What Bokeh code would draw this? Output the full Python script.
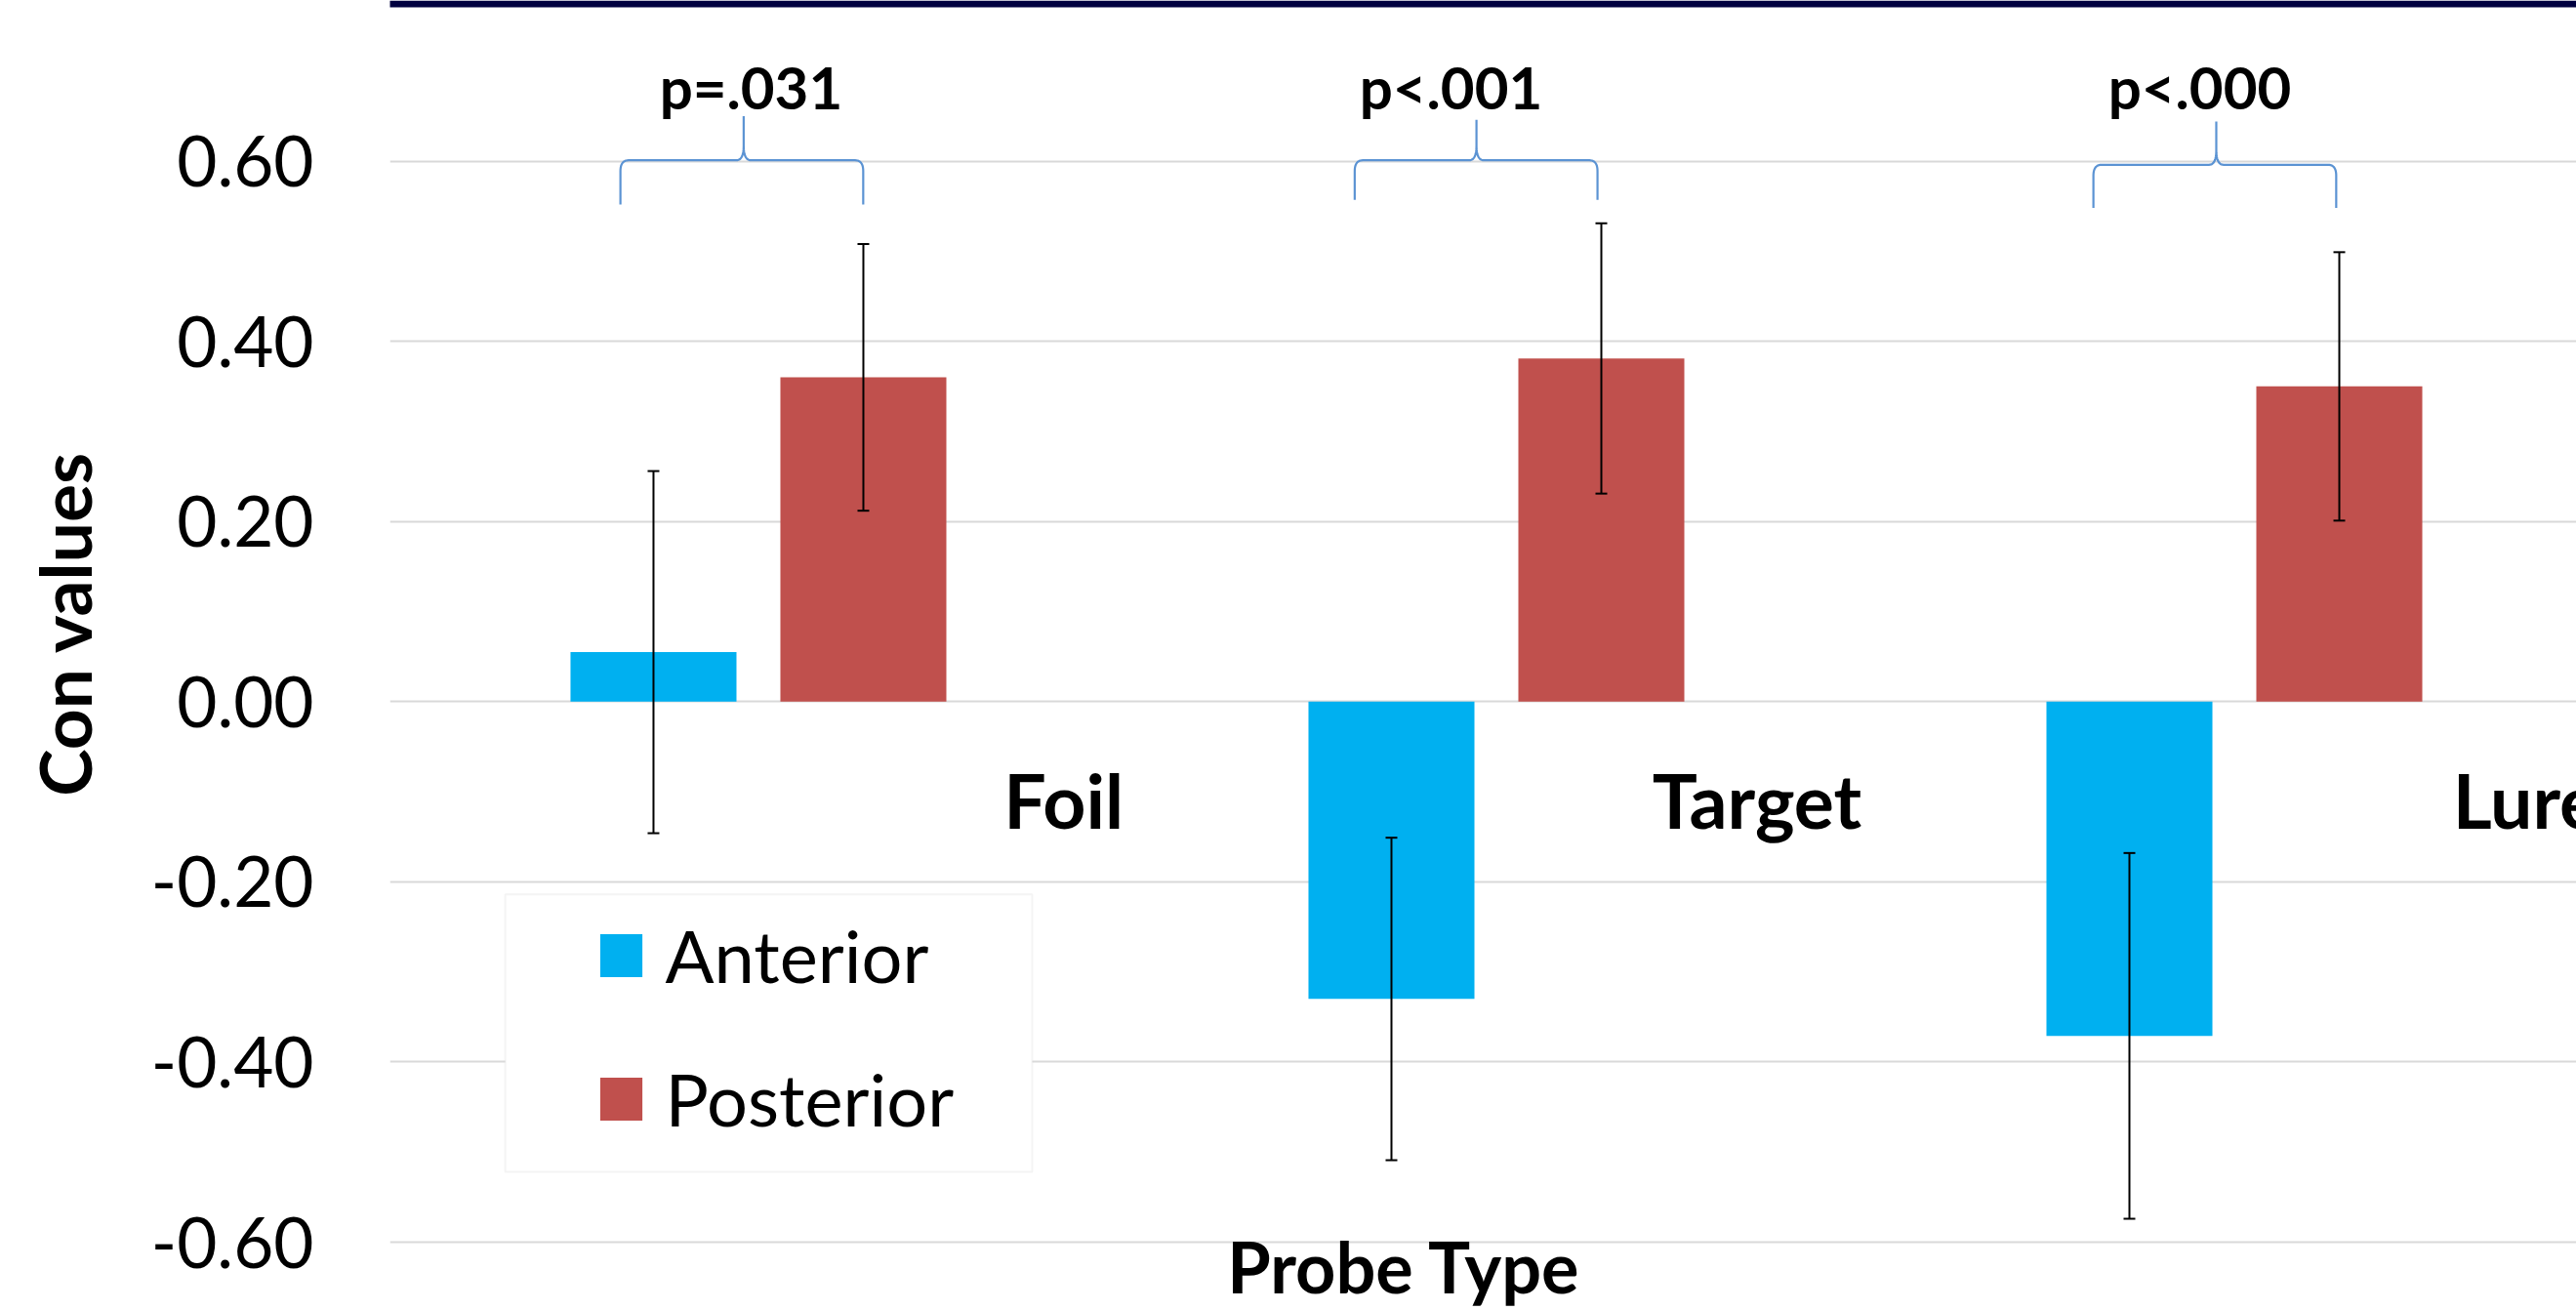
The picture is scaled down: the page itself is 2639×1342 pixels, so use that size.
from bokeh.plotting import figure
from bokeh.models import (ColumnDataSource, Whisker, TeeHead, Legend, LegendItem,
                          FixedTicker, BoxAnnotation, Range1d, NumeralTickFormatter,
                          CustomJSTickFormatter)
from bokeh.core.properties import value
from bokeh.embed import file_html
from bokeh.resources import INLINE

# ---------------- data ----------------
categories = ["Foil", "Target", "Lure"]
anterior = [0.055, -0.330, -0.371]
anterior_err = [0.201, 0.179, 0.203]
posterior = [0.360, 0.381, 0.350]
posterior_err = [0.148, 0.150, 0.149]
series_names = ["Anterior", "Posterior"]
p_labels = ["p=.031", "p<.001", "p<.000"]
y_ticks = [-0.6, -0.4, -0.2, 0.0, 0.2, 0.4, 0.6]
y_tick_labels = ["-0.60", "-0.40", "-0.20", "0.00", "0.20", "0.40", "0.60"]
x_title = "Probe Type"
y_title = "Con values"

# significance braces (data units)
brace_left = [-0.187, 0.808, 1.809]
brace_right = [0.142, 1.137, 2.138]
brace_mid = [-0.020, 0.973, 1.9755]
brace_level = [0.601, 0.601, 0.596]
brace_end = [0.552, 0.557, 0.548]
brace_tip = [0.650, 0.646, 0.644]
p_label_x = [-0.010, 0.9385, 1.953]
x_title_pos = [0.875]

# ---------------- layout helpers ----------------
OFF = 0.1422
BAR_W = 0.2249
idx = list(range(len(categories)))
ant_x = [i - OFF for i in idx]
post_x = [i + OFF for i in idx]

src_a = ColumnDataSource(dict(
    x=ant_x, top=anterior,
    upper=[v + e for v, e in zip(anterior, anterior_err)],
    lower=[v - e for v, e in zip(anterior, anterior_err)]))
src_p = ColumnDataSource(dict(
    x=post_x, top=posterior,
    upper=[v + e for v, e in zip(posterior, posterior_err)],
    lower=[v - e for v, e in zip(posterior, posterior_err)]))

p = figure(width=2639, height=1342,
           x_range=Range1d(-0.4993, 2.4636), y_range=Range1d(-0.6054, 0.7784),
           output_backend="svg", toolbar_location=None,
           min_border_left=399, min_border_right=0, min_border_top=0,
           min_border_bottom=62, outline_line_color=None,
           background_fill_color="white", border_fill_color="white")

p.xgrid.grid_line_color = None
p.ygrid.ticker = FixedTicker(ticks=y_ticks)
p.ygrid.grid_line_color = "#D9D9D9"
p.ygrid.grid_line_width = 2

# x axis: only carries the title, placed under the middle of the chart
xa = p.xaxis[0]
xa.ticker = FixedTicker(ticks=x_title_pos)
xa.formatter = CustomJSTickFormatter(args=dict(label=x_title), code="return label")
xa.axis_line_color = None
xa.major_tick_line_color = None
xa.minor_tick_line_color = None
xa.major_tick_out = 0
xa.major_tick_in = 0
xa.major_label_standoff = -24
xa.major_label_text_font = "Lato"
xa.major_label_text_font_style = "bold"
xa.major_label_text_font_size = "72px"
xa.major_label_text_color = "black"

ax = p.yaxis[0]
ax.ticker = FixedTicker(ticks=y_ticks)
ax.formatter = NumeralTickFormatter(format="0.00")
ax.major_label_overrides = {t: l for t, l in zip(y_ticks, y_tick_labels)}
ax.axis_line_color = None
ax.major_tick_line_color = None
ax.minor_tick_line_color = None
ax.major_tick_out = 0
ax.major_tick_in = 0
ax.major_label_standoff = 78
ax.major_label_text_font = "Lato"
ax.major_label_text_font_size = "71px"
ax.major_label_text_color = "black"
ax.axis_label = y_title
ax.axis_label_text_font = "Lato"
ax.axis_label_text_font_size = "73px"
ax.axis_label_text_font_style = "bold"
ax.axis_label_text_color = "black"
ax.axis_label_standoff = 42

r_a = p.vbar(x="x", top="top", bottom=0, width=BAR_W, source=src_a,
             fill_color="#00B0F0", line_color=None)
r_p = p.vbar(x="x", top="top", bottom=0, width=BAR_W, source=src_p,
             fill_color="#C0504D", line_color=None)

for src in (src_a, src_p):
    w = Whisker(base="x", upper="upper", lower="lower", source=src,
                line_color="black", line_width=2, level="annotation",
                upper_head=TeeHead(size=12, line_color="black", line_width=2),
                lower_head=TeeHead(size=12, line_color="black", line_width=2))
    p.add_layout(w)

# category labels
p.text(x=[i + 0.495 for i in idx], y=[-0.109] * len(idx), text=categories,
       text_align="right", text_baseline="alphabetic",
       text_font=value("Lato"), text_font_style="bold", text_font_size="77px",
       text_color="black")

# p-value labels
p.text(x=p_label_x, y=[0.6825] * len(p_labels), text=p_labels,
       text_align="center", text_baseline="alphabetic",
       text_font=value("Lato"), text_font_style="bold", text_font_size="60px",
       text_color="black")

# braces
def quad(p0, c, p1, n=12):
    pts = []
    for k in range(n + 1):
        t = k / n
        x = (1 - t) ** 2 * p0[0] + 2 * (1 - t) * t * c[0] + t ** 2 * p1[0]
        y = (1 - t) ** 2 * p0[1] + 2 * (1 - t) * t * c[1] + t ** 2 * p1[1]
        pts.append((x, y))
    return pts

DX = 0.011   # corner width
DY = 0.012   # corner height
TX = 0.010   # tip width
TY = 0.016   # tip curve height
bx, by = [], []
for L, R, M, H, E, T in zip(brace_left, brace_right, brace_mid, brace_level, brace_end, brace_tip):
    pts = [(L, E)]
    pts += quad((L, H - DY), (L, H), (L + DX, H))
    pts += quad((M - TX, H), (M, H), (M, H + TY))
    pts += [(M, T)]
    pts += quad((M, H + TY), (M, H), (M + TX, H))
    pts += quad((R - DX, H), (R, H), (R, H - DY))
    pts += [(R, E)]
    bx.append([q[0] for q in pts])
    by.append([q[1] for q in pts])
p.multi_line(xs=bx, ys=by, line_color="#5B93D3", line_width=2.2)

# legend box + legend
box = BoxAnnotation(left=-0.343, right=0.371, top=-0.214, bottom=-0.522,
                    fill_color="white", fill_alpha=1.0,
                    line_color="#D9D9D9", line_width=2)
p.add_layout(box)

legend = Legend(items=[LegendItem(label=series_names[0], renderers=[r_a]),
                       LegendItem(label=series_names[1], renderers=[r_p])],
                location=(209.6, 107), padding=0, margin=0, spacing=58,
                glyph_width=54, glyph_height=55, label_standoff=19,
                label_text_font="Lato", label_text_font_size="74px",
                label_text_color="black",
                border_line_color=None, background_fill_alpha=0)
p.add_layout(legend, "center")

# slide decoration (navy strip along the top edge)
NAVY = "#000040"
p.add_layout(BoxAnnotation(left=28, right=2639, top=0, bottom=7,
                           left_units="canvas", right_units="canvas",
                           top_units="canvas", bottom_units="canvas",
                           fill_color=NAVY, fill_alpha=1.0, line_color=None))

open("out.html", "w").write(file_html(p, INLINE))
